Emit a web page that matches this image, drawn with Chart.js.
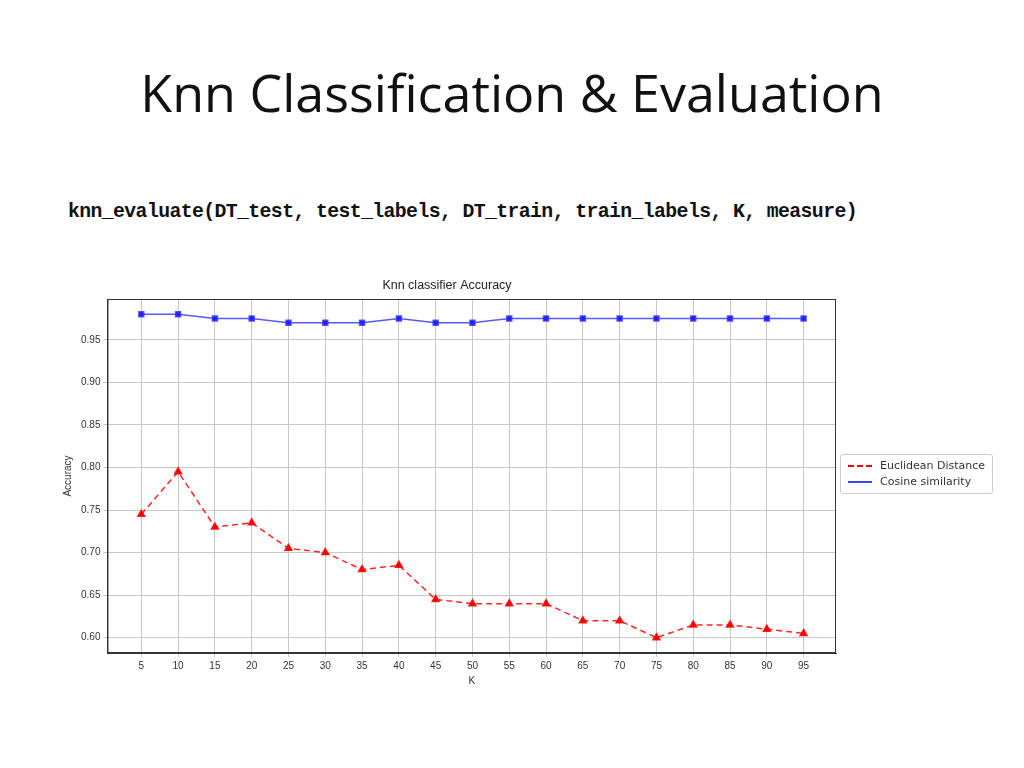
<!DOCTYPE html>
<html>
<head>
<meta charset="utf-8">
<script src="https://cdn.jsdelivr.net/npm/chart.js@4"></script>
<style>
body { margin:0; width:1024px; height:768px; background:#fff; position:relative; font-family:"Open Sans", sans-serif; }
h1 { position:absolute; left:0; width:1024px; top:56px; margin:0; text-align:center; font-weight:normal; font-size:52px; color:#111; font-family:"Open Sans", sans-serif; }
.code { position:absolute; left:68px; top:201px; font-family:"Liberation Mono", monospace; font-weight:bold; font-size:19.8px; letter-spacing:-0.6px; color:#111; }
#wrap { position:absolute; left:58px; top:276px; width:792px; height:415px; }
.legend { position:absolute; left:840px; top:454px; border:1px solid #ccc; border-radius:3px; padding:3px 7px; font-size:11px; color:#333; font-family:"DejaVu Sans", sans-serif; line-height:16px; }
.legend span.m { display:inline-block; width:24px; vertical-align:middle; margin-right:8px; position:relative; height:2px; }
</style>
</head>
<body>
<h1>Knn Classification &amp; Evaluation</h1>
<div class="code">knn_evaluate(DT_test, test_labels, DT_train, train_labels, K, measure)</div>
<div id="wrap"><canvas id="chart"></canvas></div>
<div class="legend">
  <div><span class="m" style="border-top:2px dashed red;height:0"></span>Euclidean Distance</div>
  <div><span class="m" style="border-top:2px solid #4040ff;height:0"></span>Cosine similarity</div>
</div>
<script>
const kValues = [5,10,15,20,25,30,35,40,45,50,55,60,65,70,75,80,85,90,95];
const euclidean = [0.745,0.795,0.73,0.735,0.705,0.70,0.68,0.685,0.645,0.64,0.64,0.64,0.62,0.62,0.60,0.615,0.615,0.61,0.605];
const cosine = [0.98,0.98,0.975,0.975,0.97,0.97,0.97,0.975,0.97,0.97,0.975,0.975,0.975,0.975,0.975,0.975,0.975,0.975,0.975];
const yTicks = [0.60,0.65,0.70,0.75,0.80,0.85,0.90,0.95];

const toPoints = (vals) => vals.map((v, i) => ({ x: kValues[i], y: v }));

// box around the plot area, like matplotlib spines
const frame = {
    id: "frame",
    afterDraw(chart) {
        const a = chart.chartArea, c = chart.ctx;
        c.save();
        c.strokeStyle = "#333";
        c.lineWidth = 1;
        c.strokeRect(a.left + 0.5, a.top + 0.5, a.right - a.left - 1, a.bottom - a.top - 1);
        c.restore();
    }
};

const ctx = document.getElementById("chart");
new Chart(ctx, {
    type: "line",
    data: {
        datasets: [
            { label: "Euclidean Distance", data: toPoints(euclidean), borderColor: "rgba(255,0,0,0.85)", backgroundColor: "red",
              borderDash: [6, 4], borderWidth: 1.5, pointStyle: "triangle", pointRadius: 4 },
            { label: "Cosine similarity", data: toPoints(cosine), borderColor: "rgba(60,60,255,0.85)", backgroundColor: "#2020ff",
              borderWidth: 1.5, pointStyle: "rect", pointRadius: 3.5 },
        ],
    },
    plugins: [frame],
    options: {
        responsive: true,
        maintainAspectRatio: false,
        animation: false,
        layout: { padding: { right: 14, bottom: 4 } },
        plugins: {
            legend: { display: false },
            title: { display: true, text: "Knn classifier Accuracy", color: "#222", font: { size: 12.5, weight: "normal" }, padding: { top: 2, bottom: 6 } },
        },
        scales: {
            x: {
                type: "linear", min: 0.4, max: 99.4,
                afterBuildTicks: (axis) => { axis.ticks = kValues.map(v => ({ value: v })); },
                grid: { color: "#c8c8c8", tickLength: 4 },
                border: { color: "#333" },
                ticks: { color: "#333", font: { size: 10 }, maxRotation: 0 },
                title: { display: true, text: "K", color: "#333", font: { size: 10 }, padding: 0 },
            },
            y: {
                min: 0.582, max: 0.998,
                afterBuildTicks: (axis) => { axis.ticks = yTicks.map(v => ({ value: v })); },
                grid: { color: "#c8c8c8", tickLength: 4 },
                border: { color: "#333" },
                ticks: { color: "#333", font: { size: 10 }, callback: (v) => v.toFixed(2) },
                title: { display: true, text: "Accuracy", color: "#333", font: { size: 10 } },
            },
        },
    },
});
</script>
</body>
</html>
